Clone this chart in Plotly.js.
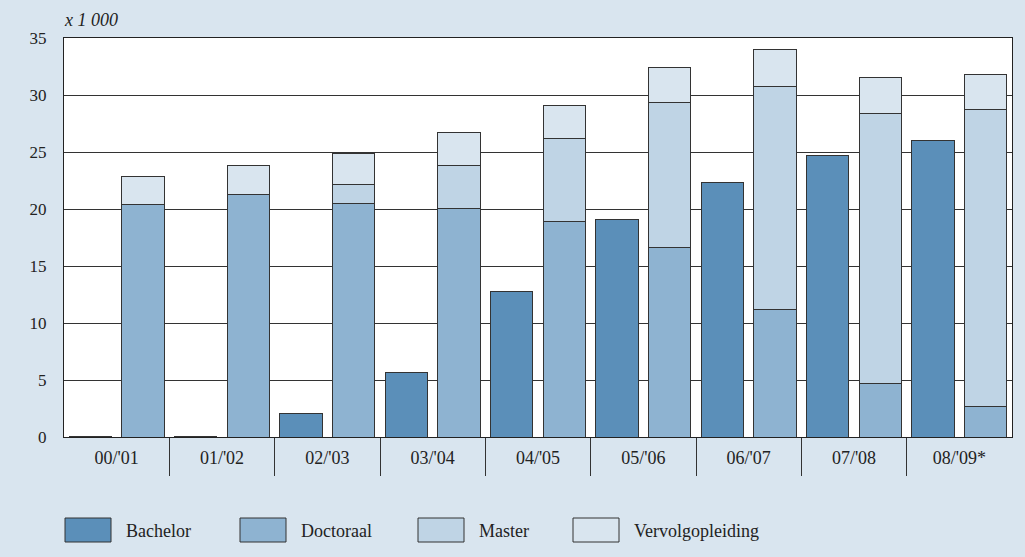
<!DOCTYPE html>
<html>
<head>
<meta charset="utf-8">
<script src="https://cdn.plot.ly/plotly-3.0.1.min.js"></script>
<style>html,body{margin:0;padding:0;background:#d9e5ef;}#chart{width:1025px;height:557px;}</style>
</head>
<body>
<div id="chart"></div>
<script>
// Academic years
const categories = ["00/'01", "01/'02", "02/'03", "03/'04", "04/'05", "05/'06", "06/'07", "07/'08", "08/'09*"];
// values x 1 000
const bachelor = [0.08, 0.08, 2.10, 5.64, 12.73, 19.07, 22.31, 24.68, 26.03];
const doctoraal = [20.39, 21.30, 20.51, 20.04, 18.93, 16.65, 11.18, 4.67, 2.68];
const master = [0, 0, 1.63, 3.74, 7.24, 12.65, 19.55, 23.69, 26.01];
const vervolgopleiding = [2.45, 2.56, 2.69, 2.92, 2.95, 3.09, 3.24, 3.16, 3.12];
const yTicks = [0, 5, 10, 15, 20, 25, 30, 35];
const seriesNames = ["Bachelor", "Doctoraal", "Master", "Vervolgopleiding"];
const seriesColors = ["#5b8fb9", "#8eb3d1", "#bfd4e5", "#d9e5ef"];

const FONT = "'Liberation Serif', 'Times New Roman', serif";
const idx = categories.map((c, i) => i);
const leftX = idx.map(i => i + 0.25);
const rightX = idx.map(i => i + 0.75);
const line = {color: '#333', width: 1};

const traces = [
  {type: 'bar', name: seriesNames[0], x: leftX, y: bachelor, width: 0.4,
   marker: {color: seriesColors[0], line: line}},
  {type: 'bar', name: seriesNames[1], x: rightX, y: doctoraal, width: 0.4,
   marker: {color: seriesColors[1], line: line}},
  {type: 'bar', name: seriesNames[2], x: rightX, y: master, width: 0.4,
   marker: {color: seriesColors[2], line: line}},
  {type: 'bar', name: seriesNames[3], x: rightX, y: vervolgopleiding, width: 0.4,
   marker: {color: seriesColors[3], line: line}}
];

// plot area geometry (px) used to place the custom legend in paper units
const PL = 64, PW = 948, PB = 437, PH = 399;
const px = v => (v - PL) / PW;
const py = v => (PB - v) / PH;

const shapes = [];
const annotations = [{
  text: 'x 1 000', xref: 'paper', yref: 'paper', x: px(62), y: py(32),
  xanchor: 'left', yanchor: 'bottom', showarrow: false,
  font: {family: FONT, size: 18, color: '#222', style: 'italic'}
}];
const legendSwatchLeft = [65, 240, 418, 573];
seriesNames.forEach((n, k) => {
  const x0 = legendSwatchLeft[k];
  shapes.push({type: 'rect', xref: 'paper', yref: 'paper',
    x0: px(x0), x1: px(x0 + 46),
    y0: py(542), y1: py(518),
    fillcolor: seriesColors[k], line: {color: '#333', width: 1}});
  annotations.push({text: n, xref: 'paper', yref: 'paper',
    x: px(x0 + 59), y: py(531),
    xanchor: 'left', yanchor: 'middle', showarrow: false,
    font: {family: FONT, size: 18, color: '#222'}});
});

const layout = {
  width: 1025, height: 557,
  paper_bgcolor: '#d9e5ef', plot_bgcolor: '#ffffff',
  margin: {l: 64, r: 13, t: 38, b: 120},
  barmode: 'stack',
  showlegend: false,
  font: {family: FONT, size: 17, color: '#222'},
  xaxis: {
    range: [0, categories.length], fixedrange: true,
    tickmode: 'array', tickvals: idx.map(i => i + 0.5), ticktext: categories,
    ticks: '', showgrid: false, zeroline: false,
    showline: true, linecolor: '#222', linewidth: 1, mirror: true,
    ticklabelstandoff: 4,
    minor: {tickmode: 'array', tickvals: idx.slice(1), ticks: 'outside', ticklen: 38,
            tickcolor: '#333', tickwidth: 1, showgrid: false},
    tickfont: {family: FONT, size: 18, color: '#222'}
  },
  yaxis: {
    range: [0, 35], fixedrange: true,
    tickmode: 'array', tickvals: yTicks,
    ticks: '', showgrid: true, gridcolor: '#333', gridwidth: 1,
    zeroline: false, showline: true, linecolor: '#222', linewidth: 1, mirror: true,
    ticklabelstandoff: 13,
    tickfont: {family: FONT, size: 17, color: '#222'}
  },
  shapes: shapes,
  annotations: annotations
};

Plotly.newPlot('chart', traces, layout, {displayModeBar: false, staticPlot: true});
</script>
</body>
</html>
